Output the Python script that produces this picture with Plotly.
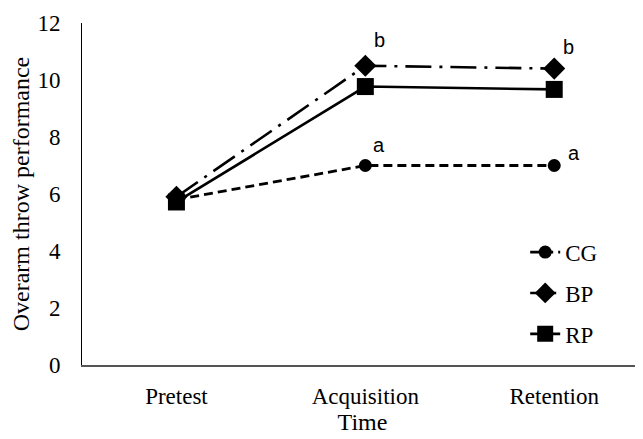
import plotly.graph_objects as go

categories = ["Pretest", "Acquisition", "Retention"]
cg = [5.8, 7.0, 7.0]
bp = [5.9, 10.5, 10.4]
rp = [5.72, 9.77, 9.67]
cg_labels = ["", "a", "a"]
bp_labels = ["", "b", "b"]
y_ticks = [0, 2, 4, 6, 8, 10, 12]

SERIF = "Liberation Serif"
SANS = "Liberation Sans"

fig = go.Figure()
fig.add_trace(go.Scatter(x=categories, y=cg, name="CG", mode="lines+markers",
                         line=dict(color="black", width=2.8, dash="9px,5px"),
                         marker=dict(symbol="circle", size=13, color="black"),
                         legendgroup="a"))
fig.add_trace(go.Scatter(x=categories, y=bp, name="BP", mode="lines+markers",
                         line=dict(color="black", width=2.6, dash="26px,8px,3px,8px"),
                         marker=dict(symbol="diamond", size=17, color="black"),
                         legendgroup="b"))
fig.add_trace(go.Scatter(x=categories, y=rp, name="RP", mode="lines+markers",
                         line=dict(color="black", width=2.6),
                         marker=dict(symbol="square", size=17, color="black"),
                         legendgroup="c"))

for i, (lab, val) in enumerate(zip(bp_labels, bp)):
    if lab:
        fig.add_annotation(x=categories[i], y=val, text=lab, showarrow=False,
                           xshift=14, yshift=26 if i == 1 else 22,
                           font=dict(family=SANS, size=20, color="black"))
for i, (lab, val) in enumerate(zip(cg_labels, cg)):
    if lab:
        fig.add_annotation(x=categories[i], y=val, text=lab, showarrow=False,
                           xshift=14 if i == 1 else 20, yshift=21 if i == 1 else 13,
                           font=dict(family=SANS, size=20, color="black"))

# the page body has an 8px margin, so the figure is shifted by (8, 8)
fig.update_layout(
    width=635, height=431,
    margin=dict(l=74, r=0, t=15, b=74),
    paper_bgcolor="white", plot_bgcolor="white",
    font=dict(family=SERIF, size=23, color="black"),
    showlegend=True,
    legend=dict(x=0.79, y=0.393, xanchor="left", yanchor="top",
                traceorder="grouped", tracegroupgap=8,
                font=dict(family=SERIF, size=23, color="black"),
                bgcolor="rgba(0,0,0,0)", itemwidth=30),
    xaxis=dict(range=[-0.5, 2.47], showline=True, linecolor="#555555", linewidth=1.5,
               showgrid=False, ticks="", zeroline=False, automargin=False,
               ticklabelstandoff=10,
               tickfont=dict(family=SERIF, size=23),
               title=dict(text="Time", standoff=4,
                          font=dict(family=SERIF, size=24))),
    yaxis=dict(range=[0, 12], tickvals=y_ticks, showline=True, linecolor="black", linewidth=1,
               showgrid=False, ticks="", zeroline=False, automargin=False,
               ticklabelstandoff=16,
               tickfont=dict(family=SERIF, size=23),
               title=dict(text="Overarm throw performance", standoff=4,
                          font=dict(family=SERIF, size=24))),
)

fig.write_html("out.html")
